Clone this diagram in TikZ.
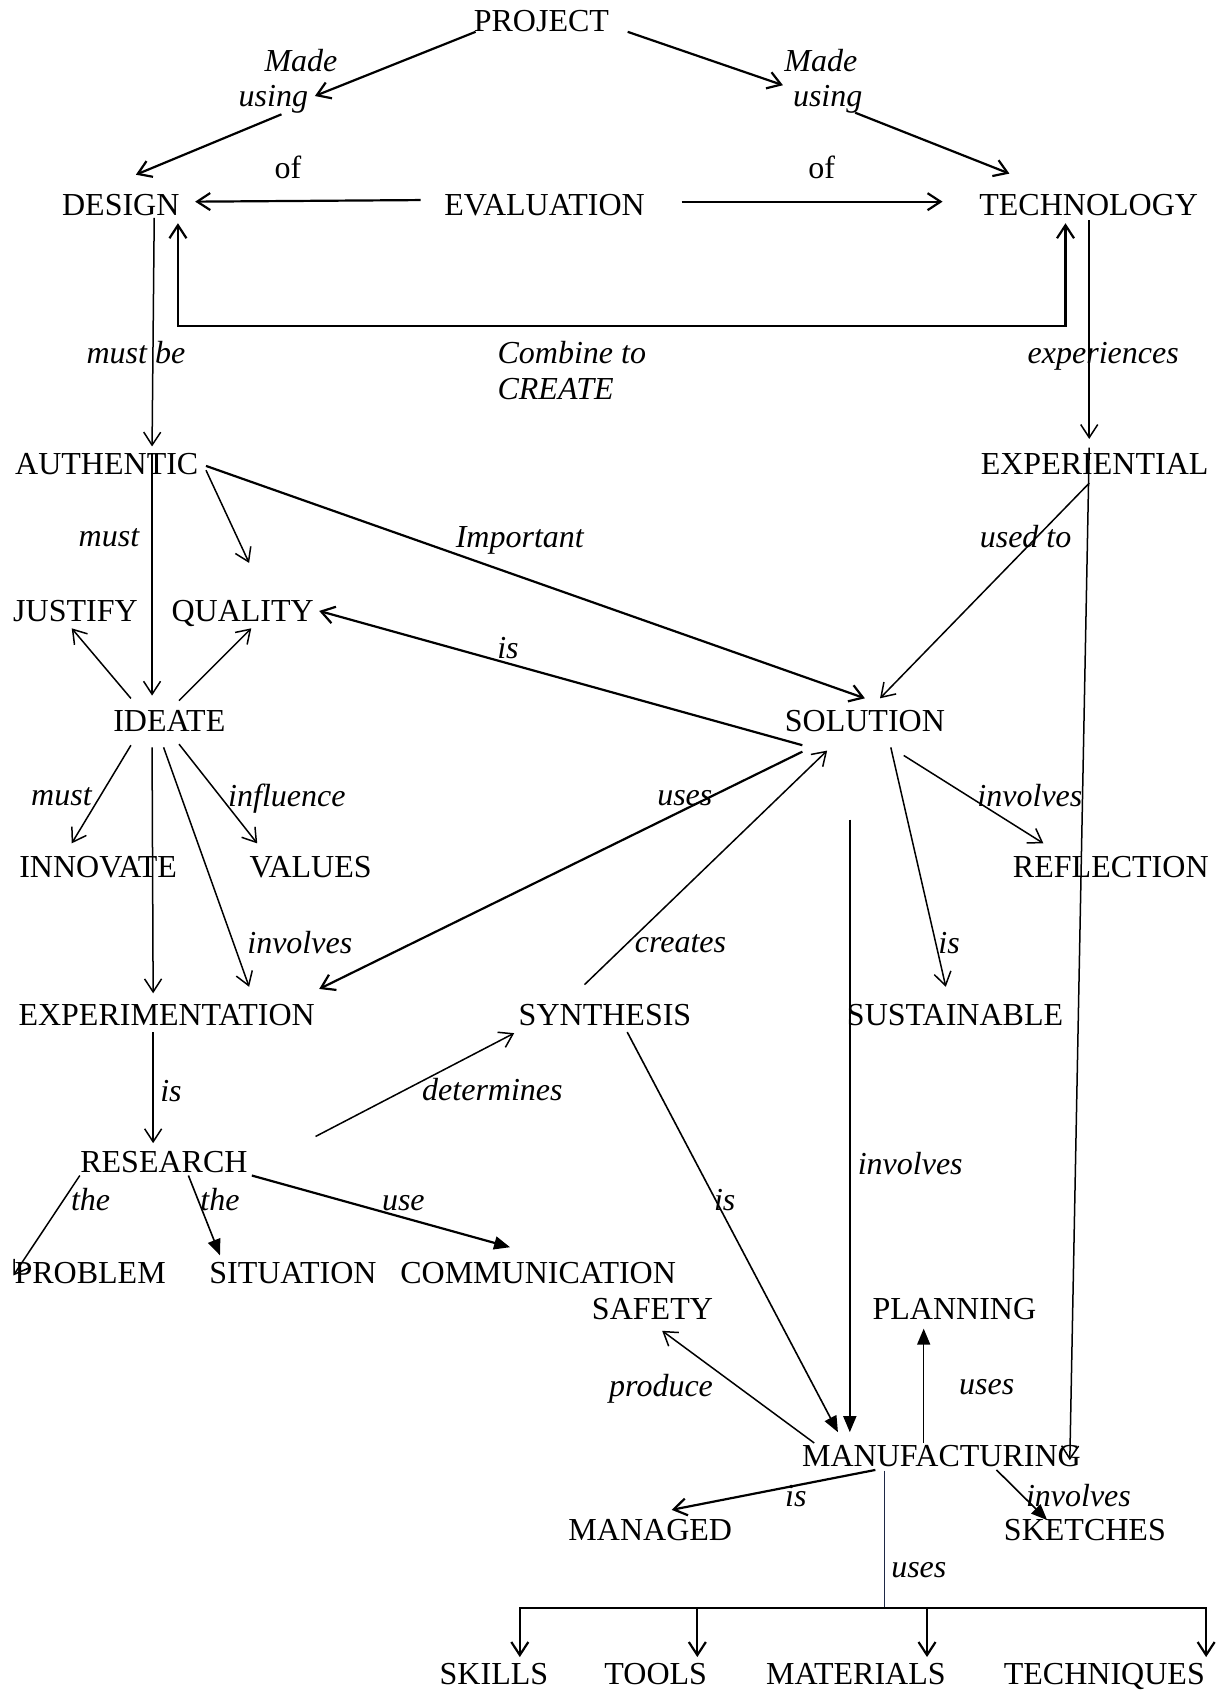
\documentclass[tikz,border=0pt]{standalone}
\usepackage{fontspec}
\setmainfont{Liberation Serif}
\usetikzlibrary{arrows.meta}
\definecolor{navyline}{RGB}{30,40,70}
\begin{document}
\begin{tikzpicture}[x=0.539pt,y=-0.539pt,
  txt/.style={inner sep=0pt,text height=10.6pt,text depth=0pt,font=\fontsize{16}{17.8}\selectfont},
  lab/.style={inner sep=0pt,text height=10.6pt,text depth=0pt,font=\fontsize{16}{17.8}\selectfont\itshape},
  mlab/.style={inner sep=0pt,align=left,anchor=north west,font=\fontsize{16}{17.8}\selectfont\itshape},
  con/.style={line width=0.75pt,-{Straight Barb[length=6.5pt,width=8.5pt]}},
  thk/.style={line width=1.1pt},
  fcon/.style={line width=0.8pt,-{Triangle[length=8pt,width=6.5pt]}},
]
\useasboundingbox (0,0) rectangle (1127,1568);

% ---------- concept nodes ----------
\node[txt] (proj) at (502,19) {PROJECT};
\node[txt] (design) at (112,190) {DESIGN};
\node[txt] (eval) at (505,190) {EVALUATION};
\node[txt] (tech) at (1009.5,190) {TECHNOLOGY};
\node[txt] (auth) at (99,430) {AUTHENTIC};
\node[txt] (exper) at (1015,430) {EXPERIENTIAL};
\node[txt] (justify) at (70,566) {JUSTIFY};
\node[txt] (quality) at (225,566) {QUALITY};
\node[txt] (ideate) at (157,668) {IDEATE};
\node[txt] (sol) at (802,668) {SOLUTION};
\node[txt] (innov) at (91,804) {INNOVATE};
\node[txt] (values) at (288,804) {VALUES};
\node[txt] (refl) at (1030,804) {REFLECTION};
\node[txt] (experim) at (154.5,941) {EXPERIMENTATION};
\node[txt] (synth) at (561,941) {SYNTHESIS};
\node[txt] (sustain) at (885.6,941) {SUSTAINABLE};
\node[txt] (research) at (152,1077.6) {RESEARCH};
\node[txt] (problem) at (83.6,1180.7) {PROBLEM};
\node[txt] (situation) at (271.6,1180.7) {SITUATION};
\node[txt] (comm) at (499,1180.7) {COMMUNICATION};
\node[txt] (safety) at (605,1213.6) {SAFETY};
\node[txt] (planning) at (885,1213.6) {PLANNING};
\node[txt] (manuf) at (873,1349.7) {MANUFACTURING};
\node[txt] (managed) at (603,1419) {MANAGED};
\node[txt] (sketches) at (1006,1419) {SKETCHES};
\node[txt] (skills) at (458,1552.5) {SKILLS};
\node[txt] (tools) at (608,1552.5) {TOOLS};
\node[txt] (materials) at (793.6,1552.5) {MATERIALS};
\node[txt] (techniques) at (1024,1552.5) {TECHNIQUES};

% ---------- labels ----------
\node[mlab] (madeL) at (221,45) {\hspace*{12.9pt}Made\\using};
\node[mlab] (madeR) at (727,45) {Made\\\hspace*{4.3pt}using};
\node[mlab] (combine) at (461,316) {Combine to\\CREATE};
\node[txt] (ofL) at (267,156) {of};
\node[txt] (ofR) at (762,156) {of};
\node[lab] (l1) at (126,327) {must be};
\node[lab] (l2) at (1023,327) {experiences};
\node[lab] (l3) at (101,497) {must};
\node[lab] (l4) at (482,498) {Important};
\node[lab] (l5) at (951,498) {used to};
\node[lab] (l6) at (471,601) {is};
\node[lab] (l7) at (57,737) {must};
\node[lab] (l8) at (266,738) {influence};
\node[lab] (l9) at (635,737) {uses};
\node[lab] (l10) at (955,738) {involves};
\node[lab] (l11) at (278,874) {involves};
\node[lab] (l12) at (631,873) {creates};
\node[lab] (l13) at (880,874) {is};
\node[lab] (l14) at (158.5,1011.7) {is};
\node[lab] (l15) at (456.6,1011) {determines};
\node[lab] (l16) at (844,1079) {involves};
\node[lab] (l17) at (84,1113) {the};
\node[lab] (l18) at (204,1113) {the};
\node[lab] (l19) at (374,1112.7) {use};
\node[lab] (l20) at (672,1113) {is};
\node[lab] (l21) at (613,1285) {produce};
\node[lab] (l22) at (915,1283) {uses};
\node[lab] (l23) at (738,1387) {is};
\node[lab] (l24) at (1000,1387) {involves};
\node[lab] (l25) at (852,1453) {uses};

% ---------- connectors ----------
\draw[con,thk] ([shift={(-61,10.5)}]proj.center) -- ([shift={(71,44)}]madeL.north west);
\draw[con,thk] ([shift={(40,61)}]madeL.north west) -- ([shift={(14,-28)}]design.center);
\draw[con,thk] ([shift={(80,10.5)}]proj.center) -- ([shift={(-1,34)}]madeR.north west);
\draw[con,thk] ([shift={(66,59.5)}]madeR.north west) -- ([shift={(-73.5,-29)}]tech.center);
\draw[con,thk] ([shift={(-115,-4.5)}]eval.center) -- ([shift={(69,-3)}]design.center);
\draw[con,thk] ([shift={(127,-3)}]eval.center) -- ([shift={(-135.5,-3)}]tech.center);
\draw[con,thk,{Straight Barb[length=6.5pt,width=8.5pt]}-{Straight Barb[length=6.5pt,width=8.5pt]}]
  ([shift={(53,17)}]design.center) -- ++(0,95.5) -| ([shift={(-21.5,17)}]tech.center);
\draw[con] ([shift={(31,12)}]design.center) -- ([shift={(42,-16)}]auth.center);
\draw[con] ([shift={(0.5,14)}]tech.center) -- ([shift={(-5,-23)}]exper.center);
\draw[con] ([shift={(42,-10)}]auth.center) -- ([shift={(-16,-23)}]ideate.center);
\draw[con] ([shift={(92,6)}]auth.center) -- ([shift={(6,-44)}]quality.center);
\draw[con,thk] ([shift={(92,2)}]auth.center) -- ([shift={(0,-20.5)}]sol.center);
\draw[con] ([shift={(-5,18)}]exper.center) -- ([shift={(14,-20.5)}]sol.center);
\draw[con] ([shift={(-5,-15)}]exper.center) -- ([shift={(119,4.3)}]manuf.center);
\draw[con] ([shift={(-35.6,-20.4)}]ideate.center) -- ([shift={(-3.5,16.6)}]justify.center);
\draw[con] ([shift={(9,-18.4)}]ideate.center) -- ([shift={(8,16.6)}]quality.center);
\draw[con,thk] ([shift={(-58,23)}]sol.center) -- ([shift={(71,0.5)}]quality.center);
\draw[con] ([shift={(-35.6,23)}]ideate.center) -- ([shift={(-24.5,-22)}]innov.center);
\draw[con] ([shift={(9,22)}]ideate.center) -- ([shift={(-49.5,-22)}]values.center);
\draw[con] ([shift={(-16,25)}]ideate.center) -- ([shift={(-12.5,-20)}]experim.center);
\draw[con] ([shift={(-5.3,25)}]ideate.center) -- ([shift={(76.5,-26)}]experim.center);
\draw[con,thk] ([shift={(-58,29)}]sol.center) -- ([shift={(141.5,-24)}]experim.center);
\draw[con] ([shift={(-19,-28)}]synth.center) -- ([shift={(-35,28)}]sol.center);
\draw[con] ([shift={(24,25)}]sol.center) -- ([shift={(-8.6,-26)}]sustain.center);
\draw[con] ([shift={(36,32.5)}]sol.center) -- ([shift={(-62.5,-22)}]refl.center);
\draw[fcon] ([shift={(-14,92)}]sol.center) -- ([shift={(-85,-21.7)}]manuf.center);
\draw[fcon] ([shift={(20.6,16)}]synth.center) -- ([shift={(-96,-21.7)}]manuf.center);
\draw[con] ([shift={(-12.5,16)}]experim.center) -- ([shift={(-10,-17.6)}]research.center);
\draw[con] ([shift={(140.6,-23.8)}]research.center) -- ([shift={(-84.2,17)}]synth.center);
\draw[con] ([shift={(-78,12.4)}]research.center) -- ([shift={(-71.2,2)}]problem.center);
\draw[fcon] ([shift={(22.7,12.4)}]research.center) -- ([shift={(-67.6,-16.7)}]situation.center);
\draw[fcon,thk] ([shift={(81.5,12.4)}]research.center) -- ([shift={(-26,-24.2)}]comm.center);
\draw[con] ([shift={(-118,-11.7)}]manuf.center) -- ([shift={(9,20.4)}]safety.center);
\draw[fcon] ([shift={(-16.5,-11.7)}]manuf.center) -- ([shift={(-28.5,18.4)}]planning.center);
\draw[con,thk] ([shift={(-61.3,13.3)}]manuf.center) -- ([shift={(19.8,-19)}]managed.center);
\draw[fcon] ([shift={(51,13.3)}]manuf.center) -- ([shift={(-35,-9.5)}]sketches.center);

% ---------- uses tree ----------
\coordinate (bar) at (820,1491);
\draw[line width=0.5pt,draw=navyline] ([shift={(-53,14)}]manuf.center) -- (bar);
\draw[con,thk] (bar) -| ([shift={(24,-16)}]skills.center);
\draw[con,thk] (bar) -| ([shift={(38.6,-16)}]tools.center);
\draw[con,thk] (bar) -| ([shift={(66,-16)}]materials.center);
\draw[con,thk] (bar) -| ([shift={(94.4,-16)}]techniques.center);
\end{tikzpicture}
\end{document}
